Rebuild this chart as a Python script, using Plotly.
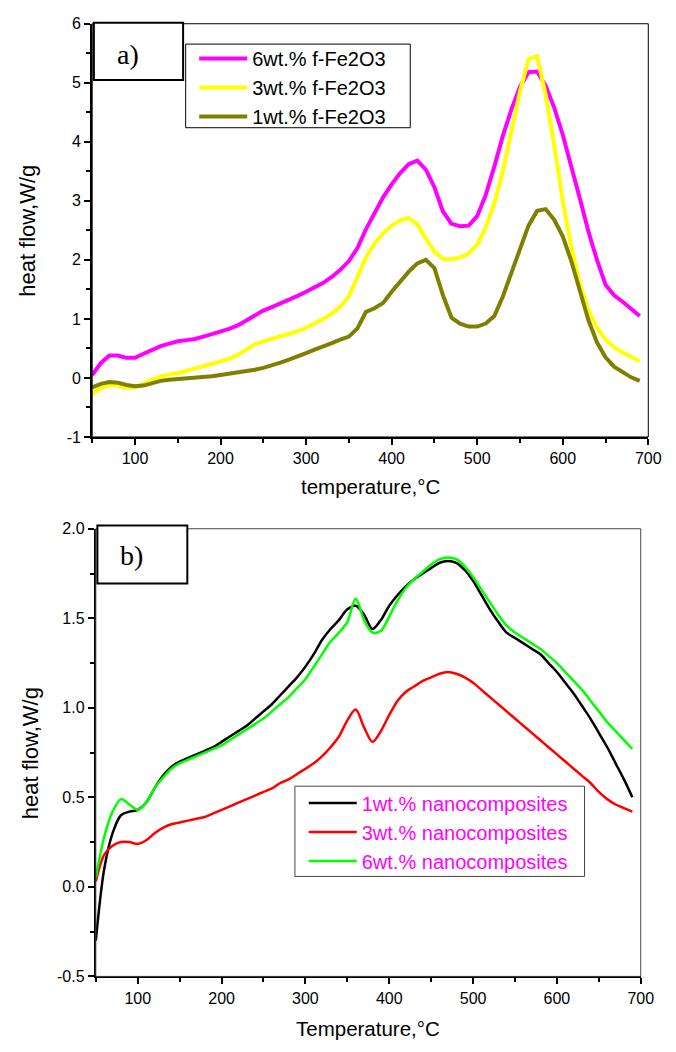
import plotly.graph_objects as go

W, H = 676, 1052

# ---------------- data ----------------
temp = list(range(50, 700, 10))  # 50..690

fe_6wt = [0.05, 0.25, 0.38, 0.38, 0.34, 0.34, 0.41, 0.48, 0.54, 0.58,
          0.62, 0.64, 0.66, 0.70, 0.74, 0.78, 0.83, 0.89, 0.97, 1.06,
          1.14, 1.20, 1.26, 1.32, 1.39, 1.46, 1.53, 1.61, 1.71, 1.83,
          1.98, 2.20, 2.52, 2.80, 3.06, 3.28, 3.47, 3.62, 3.68, 3.53,
          3.23, 2.82, 2.61, 2.57, 2.58, 2.74, 3.10, 3.58, 4.10, 4.55,
          4.93, 5.18, 5.19, 4.95, 4.58, 4.12, 3.60, 3.04, 2.48, 2.00,
          1.58, 1.40, 1.29, 1.17, 1.05]

fe_3wt = [-0.28, -0.17, -0.12, -0.13, -0.17, -0.16, -0.10, -0.03, 0.02, 0.06,
          0.08, 0.12, 0.16, 0.20, 0.24, 0.28, 0.32, 0.39, 0.49, 0.57,
          0.62, 0.66, 0.70, 0.74, 0.79, 0.85, 0.92, 1.00, 1.09, 1.21,
          1.38, 1.72, 2.04, 2.28, 2.45, 2.58, 2.67, 2.71, 2.60, 2.36,
          2.14, 2.02, 2.01, 2.04, 2.11, 2.26, 2.55, 2.95, 3.50, 4.18,
          4.85, 5.40, 5.45, 4.80, 3.95, 3.00, 2.22, 1.60, 1.15, 0.85,
          0.65, 0.52, 0.43, 0.36, 0.28]

fe_1wt = [-0.16, -0.10, -0.07, -0.08, -0.12, -0.14, -0.13, -0.09, -0.05, -0.03,
          -0.02, -0.01, 0.00, 0.02, 0.03, 0.05, 0.07, 0.09, 0.11, 0.14,
          0.17, 0.21, 0.26, 0.31, 0.36, 0.42, 0.48, 0.53, 0.59, 0.65,
          0.70, 0.84, 1.12, 1.18, 1.27, 1.46, 1.64, 1.80, 1.94, 2.00,
          1.86, 1.40, 1.02, 0.92, 0.87, 0.87, 0.92, 1.05, 1.38, 1.78,
          2.22, 2.58, 2.83, 2.86, 2.68, 2.40, 1.98, 1.48, 0.98, 0.60,
          0.35, 0.19, 0.09, 0.01, -0.05]

nc_1wt = [-0.30, 0.10, 0.30, 0.40, 0.42, 0.43, 0.47, 0.55, 0.62, 0.67,
          0.70, 0.72, 0.74, 0.76, 0.78, 0.81, 0.84, 0.87, 0.90, 0.94,
          0.98, 1.02, 1.07, 1.12, 1.17, 1.23, 1.30, 1.38, 1.44, 1.49,
          1.55, 1.57, 1.52, 1.44, 1.49, 1.57, 1.63, 1.68, 1.72, 1.75,
          1.78, 1.81, 1.82, 1.81, 1.77, 1.71, 1.63, 1.55, 1.48, 1.42,
          1.39, 1.36, 1.33, 1.30, 1.25, 1.20, 1.14, 1.08, 1.01, 0.94,
          0.86, 0.78, 0.69, 0.60, 0.50]

nc_3wt = [0.03, 0.18, 0.23, 0.25, 0.25, 0.24, 0.26, 0.30, 0.33, 0.35,
          0.36, 0.37, 0.38, 0.39, 0.41, 0.43, 0.45, 0.47, 0.49, 0.51,
          0.53, 0.55, 0.58, 0.60, 0.63, 0.66, 0.69, 0.73, 0.78, 0.84,
          0.93, 0.99, 0.89, 0.81, 0.87, 0.96, 1.04, 1.09, 1.12, 1.15,
          1.17, 1.19, 1.20, 1.19, 1.17, 1.14, 1.10, 1.06, 1.02, 0.98,
          0.94, 0.90, 0.86, 0.82, 0.78, 0.74, 0.70, 0.66, 0.62, 0.58,
          0.53, 0.49, 0.46, 0.44, 0.42]

nc_6wt = [0.05, 0.28, 0.42, 0.49, 0.46, 0.43, 0.47, 0.55, 0.61, 0.66,
          0.69, 0.71, 0.73, 0.75, 0.77, 0.79, 0.82, 0.85, 0.88, 0.91,
          0.94, 0.98, 1.02, 1.06, 1.11, 1.16, 1.23, 1.30, 1.37, 1.42,
          1.48, 1.61, 1.49, 1.42, 1.43, 1.51, 1.60, 1.67, 1.72, 1.76,
          1.80, 1.83, 1.84, 1.83, 1.79, 1.73, 1.66, 1.59, 1.52, 1.46,
          1.42, 1.39, 1.36, 1.33, 1.29, 1.25, 1.20, 1.15, 1.10, 1.04,
          0.98, 0.92, 0.87, 0.82, 0.77]

x_ticks = [100, 200, 300, 400, 500, 600, 700]
y1_ticks = [-1, 0, 1, 2, 3, 4, 5, 6]
y1_labels = ["-1", "0", "1", "2", "3", "4", "5", "6"]
y2_ticks = [-0.5, 0.0, 0.5, 1.0, 1.5, 2.0]
y2_labels = ["-0.5", "0.0", "0.5", "1.0", "1.5", "2.0"]

# ---------------- helpers ----------------
def px_x(p):
    return p / W

def px_y(p):
    return 1 - p / H

SANS = "Liberation Sans, Arial, sans-serif"
SERIF = "Liberation Serif, Times New Roman, serif"

fig = go.Figure()

# top panel
fig.add_trace(go.Scatter(x=temp, y=fe_6wt, mode="lines", name="6wt.% f-Fe2O3",
                         line=dict(color="#FF00FF", width=4), xaxis="x", yaxis="y",
                         legend="legend"))
fig.add_trace(go.Scatter(x=temp, y=fe_3wt, mode="lines", name="3wt.% f-Fe2O3",
                         line=dict(color="#FFFF00", width=4), xaxis="x", yaxis="y",
                         legend="legend"))
fig.add_trace(go.Scatter(x=temp, y=fe_1wt, mode="lines", name="1wt.% f-Fe2O3",
                         line=dict(color="#808000", width=4), xaxis="x", yaxis="y",
                         legend="legend"))

# bottom panel
fig.add_trace(go.Scatter(x=temp, y=nc_1wt, mode="lines", name="1wt.% nanocomposites",
                         line=dict(color="#000000", width=2.5, shape="spline", smoothing=0.9),
                         xaxis="x2", yaxis="y2", legend="legend2"))
fig.add_trace(go.Scatter(x=temp, y=nc_3wt, mode="lines", name="3wt.% nanocomposites",
                         line=dict(color="#FF0000", width=2.5, shape="spline", smoothing=0.9),
                         xaxis="x2", yaxis="y2", legend="legend2"))
fig.add_trace(go.Scatter(x=temp, y=nc_6wt, mode="lines", name="6wt.% nanocomposites",
                         line=dict(color="#00FF00", width=2.5, shape="spline", smoothing=0.9),
                         xaxis="x2", yaxis="y2", legend="legend2"))

tickfont = dict(family=SANS, size=16, color="black")

def xaxis_cfg(domain, anchor):
    return dict(domain=domain, anchor=anchor, range=[50, 700],
                tickvals=x_ticks, ticks="outside", ticklen=6, tickwidth=1.5,
                tickcolor="black", showline=True, linecolor="black", linewidth=2,
                showgrid=False, zeroline=False, tickfont=tickfont,
                minor=dict(ticks="outside", ticklen=4, tickwidth=1.5, tickcolor="black",
                           tick0=0, dtick=50, showgrid=False))

def yaxis_cfg(domain, anchor, rng, vals, labels, minor_dtick):
    return dict(domain=domain, anchor=anchor, range=rng,
                tickvals=vals, ticktext=labels, ticks="outside", ticklen=6, tickwidth=1.5,
                tickcolor="black", showline=True, linecolor="black", linewidth=2,
                showgrid=False, zeroline=False, tickfont=tickfont,
                minor=dict(ticks="outside", ticklen=4, tickwidth=1.5, tickcolor="black",
                           tick0=0, dtick=minor_dtick, showgrid=False))

top_x = [px_x(94), px_x(661)]
top_y = [px_y(436), px_y(16)]
bot_x = [px_x(97.7), px_x(653.3)]
bot_y = [px_y(984.3), px_y(529.3)]

fig.update_layout(
    width=W, height=H,
    margin=dict(l=0, r=0, t=0, b=0),
    paper_bgcolor="white", plot_bgcolor="white",
    xaxis=xaxis_cfg(top_x, "y"),
    yaxis=yaxis_cfg(top_y, "x", [-1, 6], y1_ticks, y1_labels, 0.5),
    xaxis2=xaxis_cfg(bot_x, "y2"),
    yaxis2=yaxis_cfg(bot_y, "x2", [-0.5, 2.0], y2_ticks, y2_labels, 0.25),
    legend=dict(x=px_x(198), y=px_y(31.5), xanchor="left", yanchor="top",
                bgcolor="rgba(0,0,0,0)", borderwidth=0,
                font=dict(family=SANS, size=20, color="black"),
                tracegroupgap=0, itemwidth=48),
    legend2=dict(x=px_x(309.7), y=px_y(788.2), xanchor="left", yanchor="top",
                 bgcolor="rgba(0,0,0,0)", borderwidth=0,
                 font=dict(family=SANS, size=20, color="#FF00FF"),
                 tracegroupgap=0, itemwidth=48),
    showlegend=True,
)

# frames (thin top/right border lines), legend boxes and panel label boxes
shapes = [
    dict(type="rect", xref="x domain", yref="y domain", x0=0, x1=1, y0=0, y1=1,
         line=dict(color="black", width=1), layer="above"),
    dict(type="rect", xref="x2 domain", yref="y2 domain", x0=0, x1=1, y0=0, y1=1,
         line=dict(color="#444444", width=1), layer="above"),
    # legend boxes
    dict(type="rect", xref="paper", yref="paper",
         x0=px_x(189.3), x1=px_x(418.3), y0=px_y(121.7), y1=px_y(36.7),
         line=dict(color="black", width=1), fillcolor="white", layer="above"),
    dict(type="rect", xref="paper", yref="paper",
         x0=px_x(300.7), x1=px_x(596), y0=px_y(882.7), y1=px_y(791),
         line=dict(color="#444444", width=1), fillcolor="white", layer="above"),
    # panel label boxes
    dict(type="rect", xref="paper", yref="paper",
         x0=px_x(95.7), x1=px_x(186.7), y0=px_y(73.3), y1=px_y(15),
         line=dict(color="black", width=2), fillcolor="white", layer="above"),
    dict(type="rect", xref="paper", yref="paper",
         x0=px_x(99.3), x1=px_x(191), y0=px_y(585), y1=px_y(526),
         line=dict(color="black", width=2), fillcolor="white", layer="above"),
]
fig.update_layout(shapes=shapes)

annotations = [
    dict(text="a)", x=px_x(130), y=px_y(47), xref="paper", yref="paper",
         showarrow=False, font=dict(family=SERIF, size=28, color="black"),
         xanchor="center", yanchor="middle"),
    dict(text="b)", x=px_x(134), y=px_y(556), xref="paper", yref="paper",
         showarrow=False, font=dict(family=SERIF, size=28, color="black"),
         xanchor="center", yanchor="middle"),
    dict(text="temperature,°C", x=px_x(377.5), y=px_y(486), xref="paper", yref="paper",
         showarrow=False, font=dict(family=SANS, size=20.5, color="black"),
         xanchor="center", yanchor="middle"),
    dict(text="Temperature,°C", x=px_x(375.5), y=px_y(1037), xref="paper", yref="paper",
         showarrow=False, font=dict(family=SANS, size=20.5, color="black"),
         xanchor="center", yanchor="middle"),
    dict(text="heat flow,W/g", x=px_x(28), y=px_y(226), xref="paper", yref="paper",
         showarrow=False, textangle=-90, font=dict(family=SANS, size=22, color="black"),
         xanchor="center", yanchor="middle"),
    dict(text="heat flow,W/g", x=px_x(31), y=px_y(757), xref="paper", yref="paper",
         showarrow=False, textangle=-90, font=dict(family=SANS, size=22, color="black"),
         xanchor="center", yanchor="middle"),
]
fig.update_layout(annotations=annotations)

fig.write_html("out.html")
